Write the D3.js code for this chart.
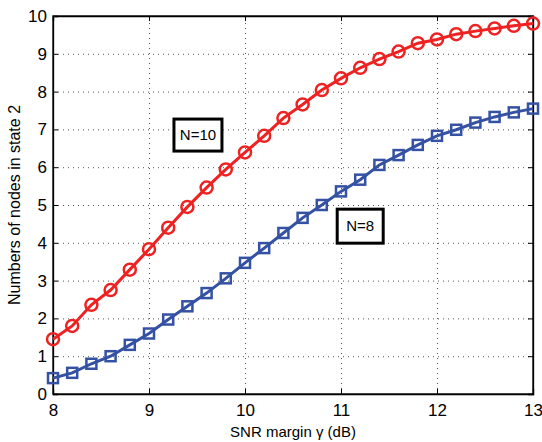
<!DOCTYPE html>
<html>
<head>
<meta charset="utf-8">
<script src="https://cdn.jsdelivr.net/npm/d3@7.9.0/dist/d3.min.js"></script>
<style>
  body { margin: 0; background: #fff; }
  svg { font-family: "Liberation Sans", Arial, sans-serif; }
  .grid line { stroke: #555; stroke-dasharray: 1 4; stroke-width: 1; }
  .grid path { display: none; }
</style>
</head>
<body>
<div id="chart"></div>
<script>
const snr = d3.range(0, 26).map(i => 8 + i * 0.2);
const n10 = [1.45, 1.80, 2.36, 2.75, 3.29, 3.83, 4.40, 4.95, 5.46, 5.94, 6.39, 6.83, 7.30,
             7.66, 8.04, 8.35, 8.63, 8.86, 9.06, 9.28, 9.38, 9.52, 9.60, 9.67, 9.74, 9.80];
const n8 = [0.42, 0.56, 0.80, 1.00, 1.30, 1.60, 1.97, 2.32, 2.67, 3.06, 3.47, 3.86, 4.26,
            4.66, 5.00, 5.36, 5.67, 6.06, 6.32, 6.59, 6.83, 6.99, 7.18, 7.33, 7.45, 7.55];
const xTicks = [8, 9, 10, 11, 12, 13];
const yTicks = [0, 1, 2, 3, 4, 5, 6, 7, 8, 9, 10];
const labels = [
  { text: "N=10", x: 9.51, y: 6.85, w: 48, h: 32 },
  { text: "N=8", x: 11.2, y: 4.44, w: 46, h: 34 }
];

const width = 542, height = 442;
const margin = { top: 16, right: 9, bottom: 48, left: 53 };

const svg = d3.select('#chart').append('svg')
  .attr('width', width).attr('height', height);

const xScale = d3.scaleLinear().domain([8, 13]).range([margin.left, width - margin.right]);
const yScale = d3.scaleLinear().domain([0, 10]).range([height - margin.bottom, margin.top]);

// gridlines
svg.append('g').attr('class', 'grid')
  .attr('transform', `translate(0, ${height - margin.bottom})`)
  .call(d3.axisBottom(xScale).tickValues(xTicks.slice(1, -1)).tickFormat('')
    .tickSize(-(height - margin.top - margin.bottom)));
svg.append('g').attr('class', 'grid')
  .attr('transform', `translate(${margin.left}, 0)`)
  .call(d3.axisLeft(yScale).tickValues(yTicks.slice(1, -1)).tickFormat('')
    .tickSize(-(width - margin.left - margin.right)));

// axes, ticks inward
svg.append('g')
  .attr('transform', `translate(0, ${height - margin.bottom})`)
  .call(d3.axisBottom(xScale).tickValues(xTicks).tickFormat(d3.format('d'))
    .tickSize(-5).tickPadding(10));
svg.append('g')
  .attr('transform', `translate(${margin.left}, 0)`)
  .call(d3.axisLeft(yScale).tickValues(yTicks).tickFormat(d3.format('d'))
    .tickSize(-5).tickPadding(6));
// ticks on top/right
svg.append('g')
  .attr('transform', `translate(0, ${margin.top})`)
  .call(d3.axisTop(xScale).tickValues(xTicks).tickSize(-5).tickFormat(''));
svg.append('g')
  .attr('transform', `translate(${width - margin.right}, 0)`)
  .call(d3.axisRight(yScale).tickValues(yTicks).tickSize(-5).tickFormat(''));

svg.selectAll('.tick text').attr('font-size', 17).attr('fill', '#000')
  .style('font-family', '"Liberation Sans", Arial, sans-serif');
svg.selectAll('.domain').attr('stroke', '#000').attr('stroke-width', 1.3);

svg.append('rect')
  .attr('x', margin.left).attr('y', margin.top)
  .attr('width', width - margin.left - margin.right)
  .attr('height', height - margin.top - margin.bottom)
  .attr('fill', 'none').attr('stroke', '#000').attr('stroke-width', 1.3);

const line = d3.line().x((d, i) => xScale(snr[i])).y(d => yScale(d));

// N=8 blue squares
svg.append('path').datum(n8).attr('d', line)
  .attr('fill', 'none').attr('stroke', '#3451a3').attr('stroke-width', 3);
svg.append('g').selectAll('rect').data(n8).join('rect')
  .attr('x', (d, i) => xScale(snr[i]) - 5).attr('y', d => yScale(d) - 5)
  .attr('width', 10).attr('height', 10)
  .attr('fill', 'none').attr('stroke', '#3451a3').attr('stroke-width', 2.5);

// N=10 red circles
svg.append('path').datum(n10).attr('d', line)
  .attr('fill', 'none').attr('stroke', '#ee2222').attr('stroke-width', 3);
svg.append('g').selectAll('circle').data(n10).join('circle')
  .attr('cx', (d, i) => xScale(snr[i])).attr('cy', d => yScale(d))
  .attr('r', 6).attr('fill', 'none').attr('stroke', '#ee2222').attr('stroke-width', 2.5);

// labels in boxes
const lab = svg.append('g').selectAll('g').data(labels).join('g')
  .attr('transform', d => `translate(${xScale(d.x)}, ${yScale(d.y)})`);
lab.append('rect')
  .attr('x', d => -d.w / 2).attr('y', d => -d.h / 2)
  .attr('width', d => d.w).attr('height', d => d.h)
  .attr('fill', '#fff').attr('stroke', '#000').attr('stroke-width', 3);
lab.append('text').text(d => d.text)
  .attr('text-anchor', 'middle').attr('dy', '0.35em')
  .attr('font-size', 15);

// axis titles
svg.append('text')
  .attr('x', (margin.left + width - margin.right) / 2).attr('y', 437)
  .attr('text-anchor', 'middle').attr('font-size', 15)
  .text('SNR margin γ (dB)');
svg.append('text')
  .attr('transform', `translate(20, ${(margin.top + height - margin.bottom) / 2}) rotate(-90)`)
  .attr('text-anchor', 'middle').attr('font-size', 16)
  .text('Numbers of nodes in state 2');
</script>
</body>
</html>
